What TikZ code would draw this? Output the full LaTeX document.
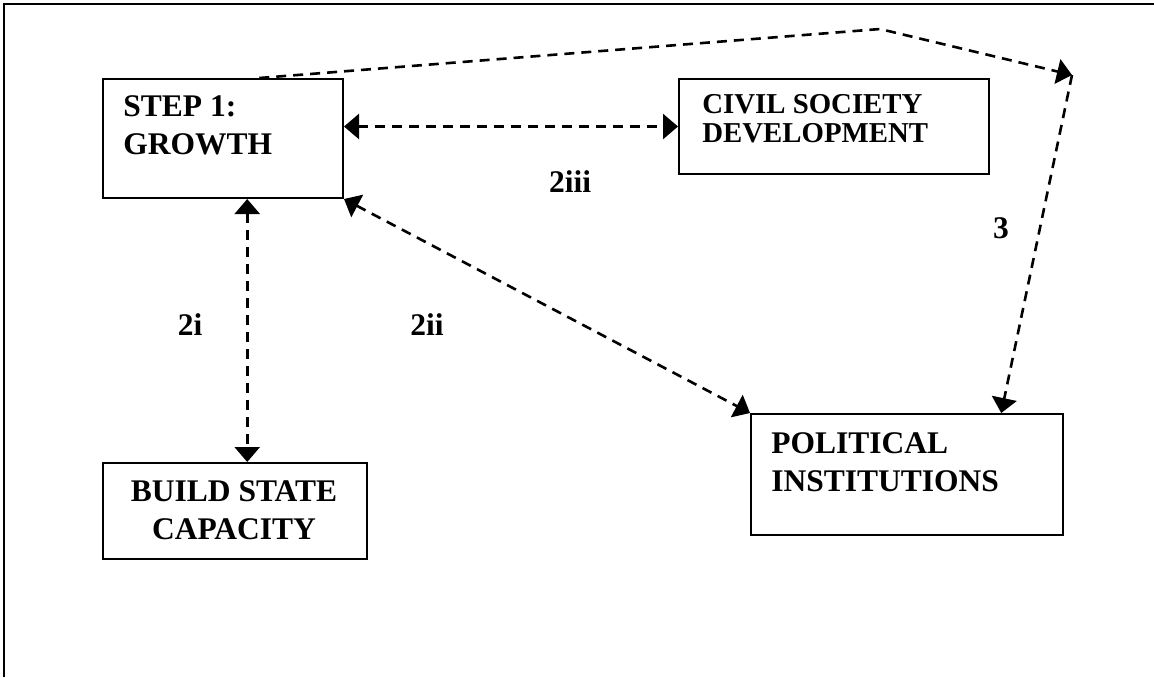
\documentclass[tikz,border=0pt]{standalone}
\usepackage{fontspec}
\setmainfont{Liberation Serif}
\usetikzlibrary{arrows.meta,positioning,calc}

\tikzset{
  box/.style={draw, line width=1pt, inner sep=0pt, anchor=north west},
  boxtext/.style={font=\fontsize{15.75}{19}\selectfont\bfseries, inner sep=0pt, align=left, anchor=north west},
  link/.style={line width=1.3pt, dash pattern=on 5pt off 3.5pt},
  tag/.style={font=\fontsize{15.75}{19}\selectfont\bfseries, inner sep=0pt}
}

\begin{document}
\begin{tikzpicture}[x=0.5pt,y=-0.5pt,>={Triangle[length=7.5pt,width=12.5pt]}]
  \useasboundingbox (0,0) rectangle (1154,677);
  % frame
  \draw[line width=1pt] (4,677) -- (4,4) -- (1154,4);
  % boxes
  \node[box, minimum width=120pt, minimum height=59.5pt] (growth) at (102,78) {};
  \node[box, minimum width=155pt, minimum height=47.5pt] (civil) at (678,78) {};
  \node[box, minimum width=132pt, minimum height=48pt] (build) at (102,462) {};
  \node[box, minimum width=156pt, minimum height=60.5pt] (political) at (750,413) {};
  \node[boxtext] (growthtext) at (123,95) {STEP 1:\\GROWTH};
  \node[boxtext, font=\fontsize{14.4}{14.5}\selectfont\bfseries] (civiltext) at (702,94) {CIVIL SOCIETY\\DEVELOPMENT};
  \node[boxtext, align=center, anchor=north] (buildtext) at (234,480) {BUILD STATE\\CAPACITY};
  \node[boxtext] (politicaltext) at (771,432) {POLITICAL\\INSTITUTIONS};
  % links
  \coordinate (g1) at ($(growth.north west)!.65!(growth.north east)$);
  \coordinate (g2) at ($(growth.south west)!.6!(growth.south east)$);
  \coordinate (peak) at (880,29);
  \coordinate (corner) at (1072,75);
  \draw[link,<->] (growth.east |- civil.west) -- (civil.west);
  \draw[link,<->] (g2) -- (g2 |- build.north);
  \draw[link,<->] (growth.south east) -- (political.north west);
  \draw[link,->] (g1) -- (peak) -- (corner);
  \draw[link,->] (corner) -- ($(political.north west)!.8!(political.north east)$);
  % labels
  \node[tag] (l2iii) at (570,182) {2iii};
  \node[tag] (l2i) at (190,325) {2i};
  \node[tag] (l2ii) at (427,325) {2ii};
  \node[tag] (l3) at (1001,228) {3};
\end{tikzpicture}
\end{document}
